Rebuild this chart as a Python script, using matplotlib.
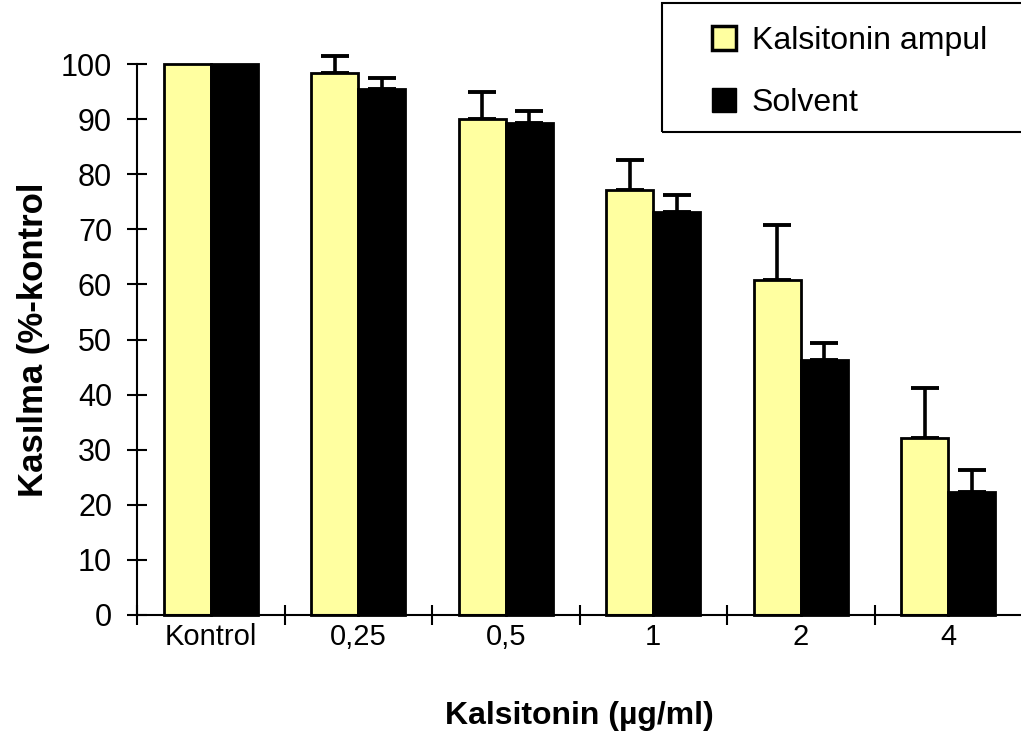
import numpy as np
import matplotlib
matplotlib.use("Agg")
import matplotlib.pyplot as plt
from matplotlib.patches import Rectangle, Patch

plt.rcParams["font.family"] = ["Liberation Sans", "DejaVu Sans"]

categories = ["Kontrol", "0,25", "0,5", "1", "2", "4"]
ampul = [100, 98.4, 90.0, 77.1, 60.8, 32.1]
ampul_err = [0, 3.1, 4.9, 5.5, 10.0, 9.1]
solvent = [100, 95.5, 89.3, 73.1, 46.3, 22.3]
solvent_err = [0, 2.0, 2.2, 3.1, 3.1, 4.0]
yticks = list(range(0, 101, 10))

YELLOW = "#FFFFA0"
W = 0.32

fig = plt.figure(figsize=(10.21, 7.51), dpi=100)
ax = fig.add_axes([137 / 1021, 1 - 615 / 751, 885 / 1021, 551 / 751])

x = np.arange(len(categories))
ax.bar(x - W / 2, ampul, W, color=YELLOW, edgecolor="black", linewidth=2,
       clip_on=False, zorder=2)
ax.bar(x + W / 2, solvent, W, color="black", edgecolor="black", linewidth=2,
       clip_on=False, zorder=2)

# upward-only error bars (control has none)
xe = x[1:]
ax.errorbar(xe - W / 2, ampul[1:], yerr=[np.zeros(len(xe)), ampul_err[1:]],
            fmt="none", ecolor="black", elinewidth=2.6, capsize=10,
            capthick=2.8, clip_on=False, zorder=1)
ax.errorbar(xe + W / 2, solvent[1:], yerr=[np.zeros(len(xe)), solvent_err[1:]],
            fmt="none", ecolor="black", elinewidth=2.6, capsize=10,
            capthick=2.8, clip_on=False, zorder=1)

ax.set_xlim(-0.5, 5.5)
ax.set_ylim(0, 100)
ax.set_yticks(yticks)
ax.set_xticks(x)
ax.set_xticklabels(categories)
ax.set_xticks(np.arange(-0.5, 5.0, 1.0), minor=True)
ax.tick_params(axis="x", which="major", length=0, pad=6, labelsize=21)
ax.tick_params(axis="x", which="minor", direction="inout", length=14, width=1.5)
ax.tick_params(axis="y", direction="inout", length=14, width=1.5, pad=11,
               labelsize=22)
for s in ["top", "right"]:
    ax.spines[s].set_visible(False)
for s in ["left", "bottom"]:
    ax.spines[s].set_linewidth(1.5)

ax.set_xlabel("Kalsitonin (µg/ml)", fontsize=23, fontweight="bold", labelpad=36)
ax.set_ylabel("Kasılma (%-kontrol", fontsize=25, fontweight="bold", labelpad=8)

# legend box (runs off the right edge in the original)
fig.patches.append(Rectangle((662 / 1021, 1 - 132 / 751), 400 / 1021, 129 / 751,
                             transform=fig.transFigure, fill=False,
                             edgecolor="black", linewidth=1.5))
handles = [Patch(facecolor=YELLOW, edgecolor="black", linewidth=2.5),
           Patch(facecolor="black", edgecolor="black")]
fig.legend(handles, ["Kalsitonin ampul", "Solvent"], loc="upper left",
           bbox_to_anchor=(712 / 1021, 1 - 26 / 751), frameon=False,
           fontsize=23, handlelength=0.75, handleheight=0.75,
           handletextpad=0.5, labelspacing=1.0, borderpad=0, borderaxespad=0)

fig.savefig("out.png", dpi=100)
